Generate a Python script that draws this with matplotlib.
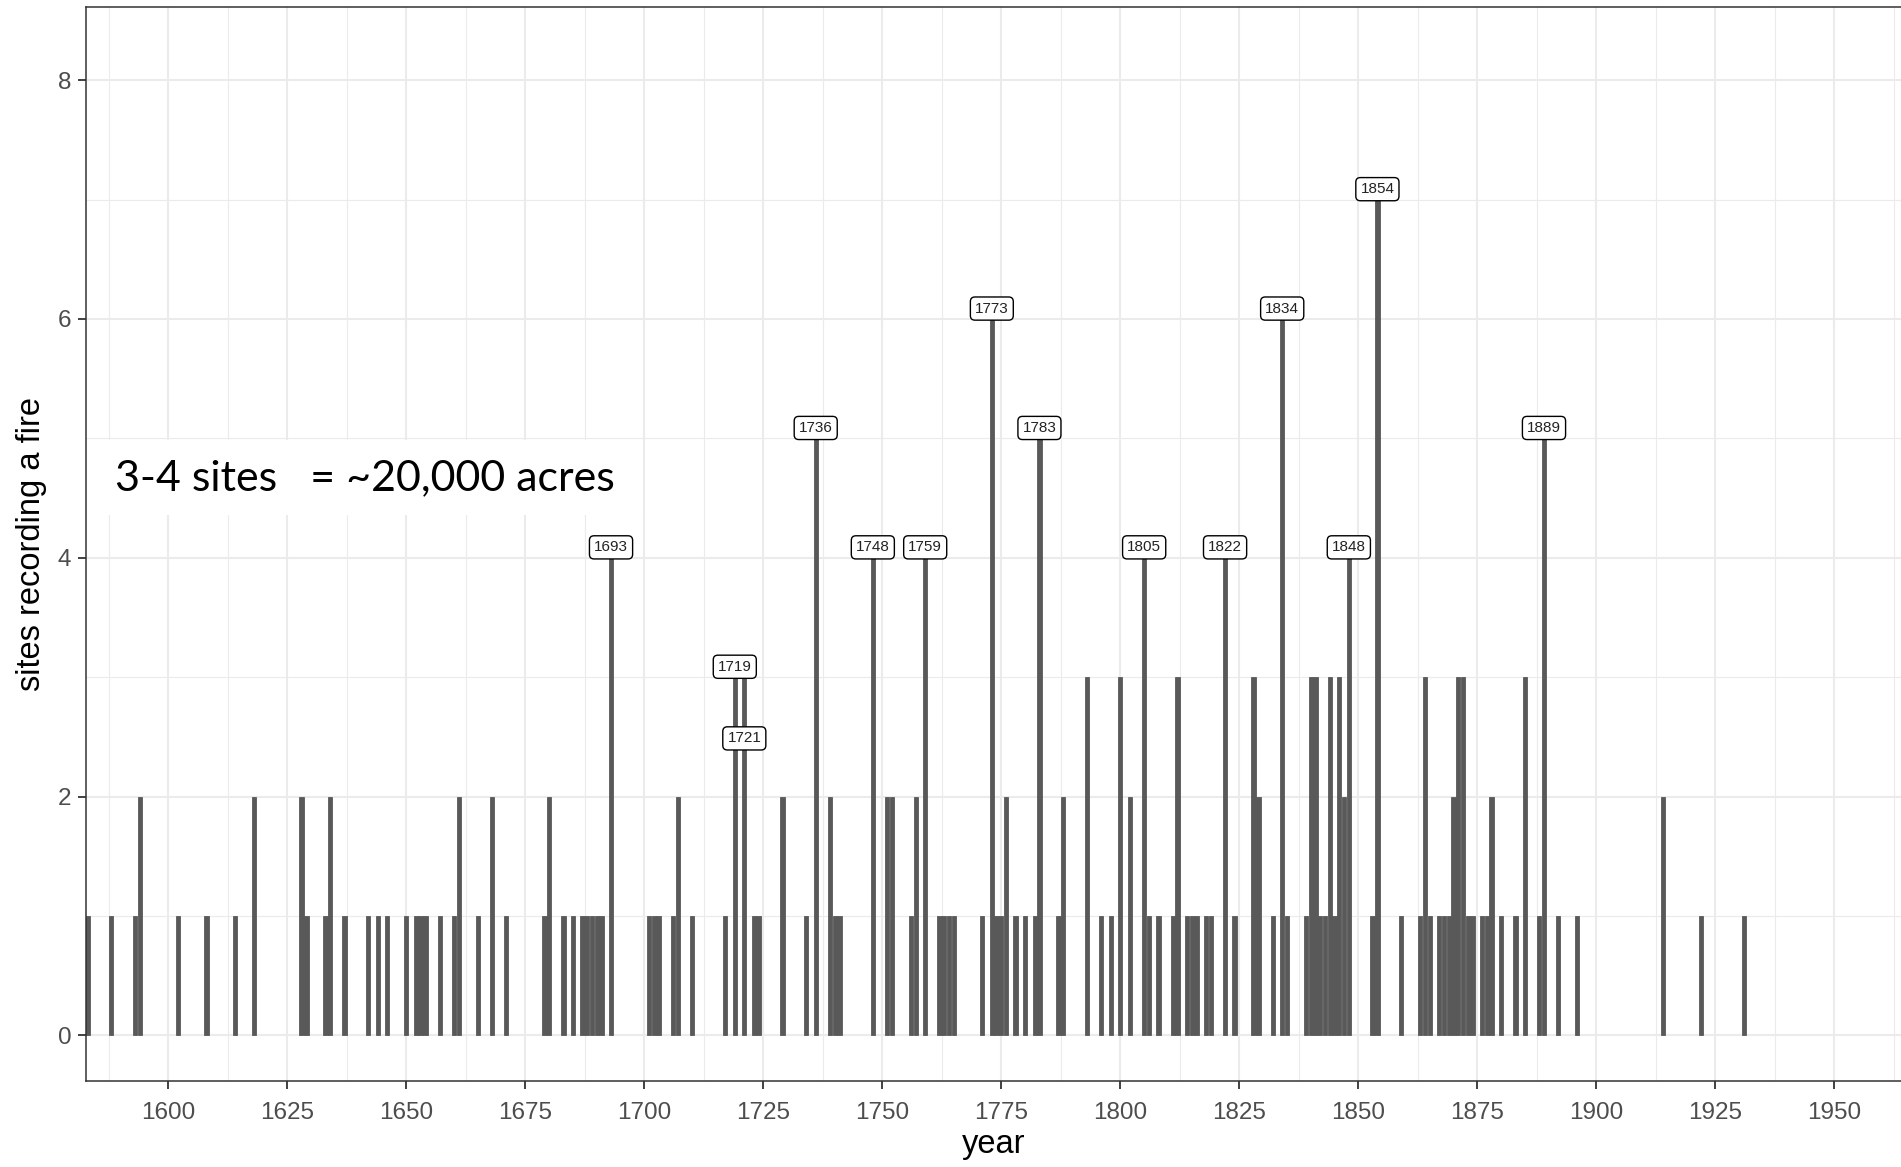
import matplotlib
matplotlib.use("Agg")
import matplotlib.pyplot as plt
from matplotlib.patches import Rectangle
from matplotlib.ticker import MultipleLocator

plt.rcParams["font.family"] = ["Liberation Sans", "DejaVu Sans"]

# fire years and number of sites recording a fire
years = [1583, 1588, 1593, 1594, 1602, 1608, 1614, 1618,
         1628, 1629, 1633, 1634, 1637, 1642, 1644, 1646, 1650, 1652, 1653, 1654,
         1657, 1660, 1661, 1665, 1668, 1671,
         1679, 1680, 1683, 1685, 1687, 1688, 1689, 1690, 1691, 1693,
         1701, 1702, 1703, 1706, 1707, 1710,
         1717, 1719, 1721, 1723, 1724, 1729, 1734, 1736, 1739, 1740, 1741,
         1748, 1751, 1752, 1756, 1757, 1759,
         1762, 1763, 1764, 1765, 1771, 1773, 1774, 1775, 1776, 1778, 1780,
         1782, 1783, 1787, 1788, 1793, 1796, 1798, 1800, 1802,
         1805, 1806, 1808, 1811, 1812, 1814, 1815, 1816, 1818, 1819, 1822,
         1824, 1828, 1829, 1832, 1834, 1835, 1839, 1840, 1841, 1842, 1843,
         1844, 1845, 1846, 1847, 1848,
         1853, 1854, 1859, 1863, 1864, 1865, 1867, 1868, 1869, 1870, 1871,
         1872, 1873, 1874, 1876, 1877, 1878, 1880, 1883, 1885, 1888, 1889,
         1892, 1896, 1914, 1922, 1931]
sites = [1, 1, 1, 2, 1, 1, 1, 2,
         2, 1, 1, 2, 1, 1, 1, 1, 1, 1, 1, 1,
         1, 1, 2, 1, 2, 1,
         1, 2, 1, 1, 1, 1, 1, 1, 1, 4,
         1, 1, 1, 1, 2, 1,
         1, 3, 3, 1, 1, 2, 1, 5, 2, 1, 1,
         4, 2, 2, 1, 2, 4,
         1, 1, 1, 1, 1, 6, 1, 1, 2, 1, 1,
         1, 5, 1, 2, 3, 1, 1, 3, 2,
         4, 1, 1, 1, 3, 1, 1, 1, 1, 1, 4,
         1, 3, 2, 1, 6, 1, 1, 3, 3, 1, 1,
         3, 1, 3, 2, 4,
         1, 7, 1, 1, 3, 1, 1, 1, 1, 2, 3,
         3, 1, 1, 1, 1, 2, 1, 1, 3, 1, 5,
         1, 1, 2, 1, 1]

label_years = [1693, 1719, 1721, 1736, 1748, 1759, 1773, 1783,
               1805, 1822, 1834, 1848, 1854, 1889]
note_text = "3-4 sites   = ~20,000 acres"

fig = plt.figure(figsize=(19.01, 11.67), dpi=100)
ax = fig.add_axes([0.04524, 0.0733, 0.95476, 0.9204])

ax.bar(years, sites, width=0.9, color="#595959", edgecolor="#595959",
       linewidth=0.6, zorder=2)

ax.set_xlim(1582.7, 1964.0)
ax.set_ylim(-0.386, 8.61)
ax.xaxis.set_major_locator(MultipleLocator(25))
ax.xaxis.set_minor_locator(MultipleLocator(12.5))
ax.yaxis.set_major_locator(MultipleLocator(2))
ax.yaxis.set_minor_locator(MultipleLocator(1))
ax.grid(which="major", color="#EBEBEB", lw=1.5, zorder=0)
ax.grid(which="minor", color="#EBEBEB", lw=0.8, zorder=0)
ax.set_axisbelow(True)

ax.tick_params(which="minor", length=0)
ax.tick_params(which="major", length=5.5, width=1.3, color="#333333",
               labelsize=17.5, labelcolor="#4D4D4D", pad=5)
ax.tick_params(axis="x", pad=9)
for side in ["left", "bottom", "top"]:
    ax.spines[side].set_color("#333333")
    ax.spines[side].set_linewidth(1.1)
ax.spines["right"].set_visible(False)

ax.set_xlabel("year", fontsize=23.5, labelpad=4)
ax.set_ylabel("sites recording a fire", fontsize=23.5, labelpad=8)

# year labels on the big fire years
lookup = dict(zip(years, sites))
for yr in label_years:
    y = lookup[yr]
    if yr == 1721:
        y = y - 0.6
    ax.annotate(str(yr), (yr, y), xytext=(0, 7.5), textcoords="offset points",
                ha="center", va="center", fontsize=11, color="#222222",
                bbox=dict(boxstyle="round,pad=0.3,rounding_size=0.3",
                          fc="white", ec="black", lw=1.0), zorder=5)

# pasted-in note box
ax.add_patch(Rectangle((1583.8, 4.36), 116, 0.63, facecolor="white",
                       edgecolor="none", zorder=3))
ax.text(1588.8, 4.67, note_text, fontsize=31, family=["Lato", "DejaVu Sans"],
        va="center", ha="left", color="black", zorder=4)

fig.savefig("out.png", dpi=100)
